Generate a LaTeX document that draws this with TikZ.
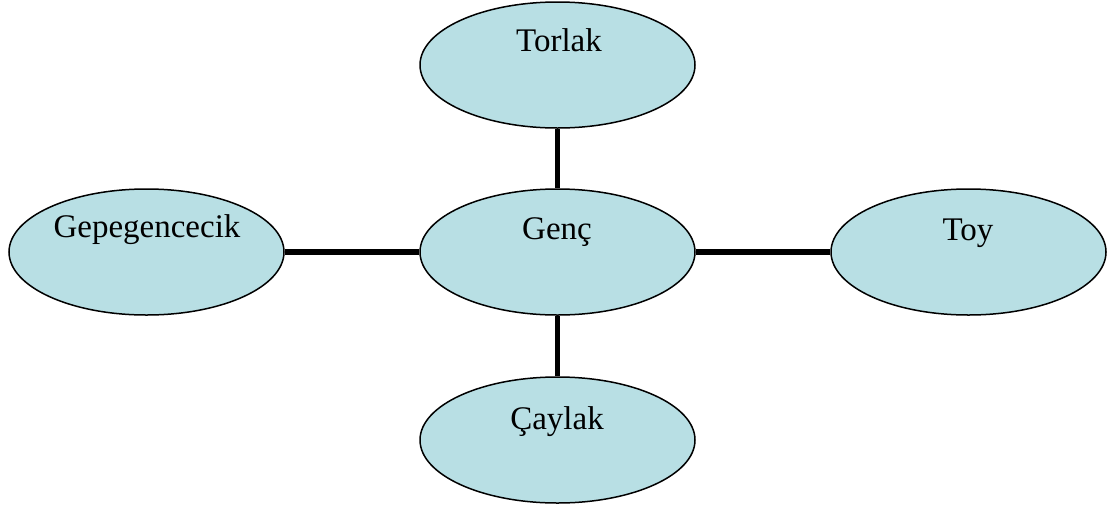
\documentclass[tikz,border=0pt]{standalone}
\usepackage{fontspec}
\setmainfont{Liberation Serif}
\usetikzlibrary{shapes.geometric}
\definecolor{ellfill}{RGB}{184,223,228}
\tikzset{
  bubble/.style={ellipse, draw=black, line width=1.5pt, fill=ellfill,
    minimum width=275pt, minimum height=126pt, inner sep=0pt},
  word/.style={anchor=base, font=\fontsize{33}{38}\selectfont, inner sep=0pt},
  link/.style={line width=5.5pt, draw=black}
}
\begin{document}
\begin{tikzpicture}[x=1pt, y=-1pt]
\useasboundingbox (0,0) rectangle (1111,509);
\node[bubble] (torlak) at (557.5,65) {};
\node[bubble] (genc) at (557.5,252) {};
\node[bubble] (gepe) at (146.5,252) {};
\node[bubble] (toy) at (968.5,252) {};
\node[bubble] (caylak) at (557.5,440) {};
\draw[link] (torlak.south) -- (genc.north);
\draw[link] (genc.south) -- (caylak.north);
\draw[link] (gepe.east) -- (genc.west);
\draw[link] (genc.east) -- (toy.west);
\node[word] (t1) at (559,51) {Torlak};
\node[word] (t2) at (557,239) {Genç};
\node[word] (t3) at (147,237) {Gepegencecik};
\node[word] (t4) at (968,240) {Toy};
\node[word] (t5) at (557,429) {Çaylak};
\end{tikzpicture}
\end{document}
